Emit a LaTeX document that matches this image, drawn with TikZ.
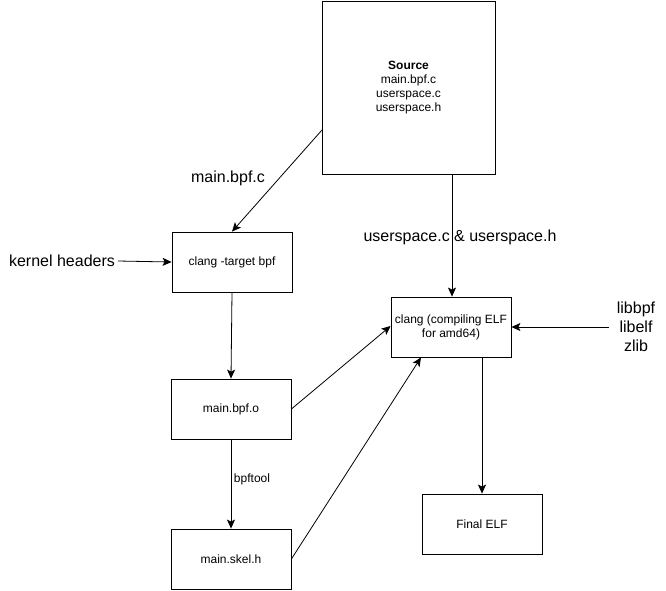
\documentclass[tikz,border=0pt]{standalone}
\usepackage{fontspec}
\setmainfont{Liberation Sans}
\usetikzlibrary{arrows.meta}
\begin{document}
\begin{tikzpicture}[x=1pt,y=-1pt,
  box/.style={draw,line width=0.8pt,minimum width=120pt,minimum height=60pt,inner sep=0pt,align=center,font=\fontsize{12}{14}\selectfont},
  lbl/.style={align=center,font=\fontsize{16}{19}\selectfont,inner sep=1pt},
  arr/.style={draw,line width=0.8pt,-{Stealth[length=9pt,width=8pt,inset=2pt]}}]
\useasboundingbox (0,0) rectangle (666,590);
\node[box,minimum width=173pt,minimum height=173pt] (src) at (408.5,87.5) {\textbf{Source}\\main.bpf.c\\userspace.c\\userspace.h};
\node[box] (ctb) at (232,262) {clang -target bpf};
\node[box] (bpfo) at (231,409) {main.bpf.o};
\node[box] (skel) at (231,559) {main.skel.h};
\node[box] (celf) at (451,327) {clang (compiling ELF\\for amd64)};
\node[box] (final) at (482,524) {Final ELF};
\node[lbl] (lmain) at (228,178) {main.bpf.c};
\node[lbl] (kh) at (62,261) {kernel headers};
\node[lbl] (lus) at (460,237) {userspace.c \& userspace.h};
\node[lbl] (libs) at (636,327) {libbpf\\libelf\\zlib};
\node[font=\fontsize{12}{14}\selectfont,inner sep=1pt] (lbt) at (252,479) {bpftool};
\coordinate (srcl) at (322,130);
\coordinate (srcb) at (452,174);
\coordinate (libsw) at (609,327);
\coordinate (khe) at (118,261);
\draw[arr] (srcl) -- (ctb.north);
\draw[arr] (khe) -- (ctb.west);
\draw[arr] (ctb.south) -- (bpfo.north);
\draw[arr] (bpfo.south) -- (skel.north);
\draw[arr] (srcb) -- ([xshift=1pt]celf.north);
\draw[arr] (libsw) -- (celf.east);
\draw[arr] (bpfo.east) -- ([yshift=1pt]celf.west);
\draw[arr] (skel.east) -- ([xshift=-30pt]celf.south);
\draw[arr] ([xshift=31pt]celf.south) -- (final.north);
\end{tikzpicture}
\end{document}
